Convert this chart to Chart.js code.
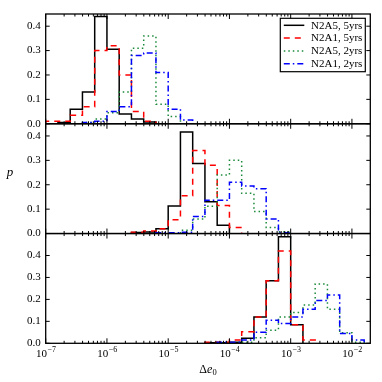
<!DOCTYPE html>
<html>
<head>
<meta charset="utf-8">
<script src="https://cdn.jsdelivr.net/npm/chart.js@4.4.1/dist/chart.umd.min.js"></script>
<style>
  html, body { margin: 0; padding: 0; background: #fff; }
</style>
</head>
<body>
<canvas id="hist" width="382" height="382"></canvas>
<script>
// log10 of the bin edges (0.2 decade bins)
const binEdgesLog = [-7.0, -6.8, -6.6, -6.4, -6.2, -6.0, -5.8, -5.6, -5.4, -5.2,
                     -5.0, -4.8, -4.6, -4.4, -4.2, -4.0, -3.8, -3.6, -3.4, -3.2,
                     -3.0, -2.8, -2.6, -2.4, -2.2, -2.0, -1.8];
const tickExponents = [-7, -6, -5, -4, -3, -2];
const yTicks = [0.0, 0.1, 0.2, 0.3, 0.4];
const seriesLabels = ['N2A5, 5yrs', 'N2A1, 5yrs', 'N2A5, 2yrs', 'N2A1, 2yrs'];

// top panel
const topN2A5y5 = [0, 0.005, 0.06, 0.13, 0.44, 0.305, 0.04, 0.02, 0.007, 0, 0, 0, 0, 0, 0, 0, 0, 0, 0, 0, 0, 0, 0, 0, 0, 0];
const topN2A1y5 = [0.01, 0.01, 0.035, 0.07, 0.30, 0.32, 0.20, 0.05, 0.01, 0, 0, 0, 0, 0, 0, 0, 0, 0, 0, 0, 0, 0, 0, 0, 0, 0];
const topN2A5y2 = [0, 0, 0, 0.005, 0.02, 0.045, 0.13, 0.31, 0.36, 0.08, 0.03, 0, 0, 0, 0, 0, 0, 0, 0, 0, 0, 0, 0, 0, 0, 0];
const topN2A1y2 = [0, 0, 0, 0.005, 0.01, 0.05, 0.07, 0.28, 0.29, 0.21, 0.06, 0.015, 0, 0, 0, 0, 0, 0, 0, 0, 0, 0, 0, 0, 0, 0];

// middle panel
const midN2A5y5 = [0, 0, 0, 0, 0, 0, 0, 0.004, 0.006, 0.02, 0.113, 0.416, 0.287, 0.13, 0.034, 0, 0, 0, 0, 0, 0, 0, 0, 0, 0, 0];
const midN2A1y5 = [0, 0, 0, 0, 0, 0, 0, 0.005, 0.01, 0.02, 0.057, 0.155, 0.34, 0.28, 0.115, 0.025, 0, 0, 0, 0, 0, 0, 0, 0, 0, 0];
const midN2A5y2 = [0, 0, 0, 0, 0, 0, 0, 0, 0, 0, 0, 0.013, 0.06, 0.112, 0.24, 0.30, 0.165, 0.09, 0.025, 0.007, 0, 0, 0, 0, 0, 0];
const midN2A1y2 = [0, 0, 0, 0, 0, 0, 0, 0, 0, 0.003, 0.003, 0.005, 0.07, 0.136, 0.136, 0.21, 0.195, 0.184, 0.06, 0.003, 0, 0, 0, 0, 0, 0];

// bottom panel
const botN2A5y5 = [0, 0, 0, 0, 0, 0, 0, 0, 0, 0, 0, 0, 0, 0.003, 0.003, 0.005, 0.023, 0.12, 0.285, 0.485, 0.085, 0, 0, 0, 0, 0];
const botN2A1y5 = [0, 0, 0, 0, 0, 0, 0, 0, 0, 0, 0, 0, 0, 0.005, 0.005, 0.015, 0.053, 0.12, 0.285, 0.42, 0.085, 0.015, 0, 0, 0, 0];
const botN2A5y2 = [0, 0, 0, 0, 0, 0, 0, 0, 0, 0, 0, 0, 0, 0, 0.003, 0, 0.005, 0.025, 0.06, 0.12, 0.14, 0.174, 0.27, 0.155, 0.048, 0.005];
const botN2A1y2 = [0, 0, 0, 0, 0, 0, 0, 0, 0, 0, 0, 0, 0, 0, 0.005, 0.005, 0.015, 0.05, 0.105, 0.09, 0.12, 0.155, 0.195, 0.22, 0.045, 0.015];

const panels = [
  { id: 'y1', max: 0.45, series: [topN2A5y5, topN2A1y5, topN2A5y2, topN2A1y2] },
  { id: 'y2', max: 0.45, series: [midN2A5y5, midN2A1y5, midN2A5y2, midN2A1y2] },
  { id: 'y3', max: 0.5,  series: [botN2A5y5, botN2A1y5, botN2A5y2, botN2A1y2] }
];

const colors = ['#000000', '#ff0000', '#1a8a3a', '#0000ff'];
const dashes = [[], [6, 5], [1.5, 3], [6, 3, 1.5, 3]];
const serif = "'Liberation Serif', 'DejaVu Serif', serif";

// step outline of a histogram, trimmed to its non-empty range
function histPoints(values) {
  const first = values.findIndex(v => v > 0);
  const last = values.length - 1 - values.slice().reverse().findIndex(v => v > 0);
  const pts = [{ x: Math.pow(10, binEdgesLog[first]), y: 0 }];
  for (let k = first; k <= last; k++) {
    pts.push({ x: Math.pow(10, binEdgesLog[k]), y: values[k] });
  }
  pts.push({ x: Math.pow(10, binEdgesLog[last + 1]), y: 0 });
  return pts;
}

const datasets = [];
panels.forEach(p => {
  p.series.forEach((vals, i) => {
    datasets.push({
      label: seriesLabels[i],
      data: histPoints(vals),
      yAxisID: p.id,
      stepped: true,
      borderColor: colors[i],
      borderDash: dashes[i],
      borderWidth: 1.5,
      pointRadius: 0,
      fill: false,
      order: 3 - i
    });
  });
});

function panelAxis(max, weight) {
  return {
    type: 'linear',
    position: 'left',
    stack: 'panels',
    stackWeight: 1,
    weight: weight,
    min: 0,
    max: max,
    grid: { display: false, drawTicks: false },
    border: { display: false },
    afterBuildTicks: s => { s.ticks = yTicks.map(v => ({ value: v })); },
    ticks: {
      autoSkip: false,
      padding: 5,
      color: '#000',
      font: { family: serif, size: 11 },
      callback: v => v.toFixed(1)
    },
    afterFit: s => { s.width = 45.7; }
  };
}

function line(ctx, x0, y0, x1, y1) {
  ctx.beginPath();
  ctx.moveTo(x0, y0);
  ctx.lineTo(x1, y1);
  ctx.stroke();
}

const decorations = {
  id: 'decorations',
  afterDatasetsDraw(chart) {
    const ctx = chart.ctx;
    const x = chart.scales.x;
    ctx.save();
    ctx.strokeStyle = '#000';
    ctx.fillStyle = '#000';

    // frames with inward ticks
    panels.forEach(p => {
      const y = chart.scales[p.id];
      ctx.lineWidth = 1;
      tickExponents.forEach(e => {
        for (let m = 1; m <= 9; m++) {
          const v = m * Math.pow(10, e);
          if (v < x.min || v > x.max) continue;
          const px = x.getPixelForValue(v);
          const len = m === 1 ? 5 : 2.5;
          line(ctx, px, y.bottom, px, y.bottom - len);
          line(ctx, px, y.top, px, y.top + len);
        }
      });
      yTicks.forEach(t => {
        const py = y.getPixelForValue(t);
        line(ctx, x.left, py, x.left + 4, py);
        line(ctx, x.right, py, x.right - 4, py);
      });
      ctx.lineWidth = 1.3;
      ctx.strokeRect(x.left, y.top, x.right - x.left, y.bottom - y.top);
    });

    // x tick labels 10^e
    ctx.textBaseline = 'alphabetic';
    ctx.textAlign = 'left';
    tickExponents.forEach(e => {
      const px = x.getPixelForValue(Math.pow(10, e));
      const exp = '\u2212' + Math.abs(e);
      ctx.font = '11px ' + serif;
      const wBase = ctx.measureText('10').width;
      ctx.font = '8px ' + serif;
      const wExp = ctx.measureText(exp).width;
      const x0 = px - (wBase + wExp) / 2;
      ctx.font = '11px ' + serif;
      ctx.fillText('10', x0, 357);
      ctx.font = '8px ' + serif;
      ctx.fillText(exp, x0 + wBase + 0.5, 351.5);
    });

    // x axis title
    const cx = (x.left + x.right) / 2;
    ctx.font = '12px ' + serif;
    const wD = ctx.measureText('\u0394').width;
    ctx.font = 'italic 12px ' + serif;
    const wE = ctx.measureText('e').width;
    ctx.font = '8.5px ' + serif;
    const wZ = ctx.measureText('0').width;
    let tx = cx - (wD + wE + wZ) / 2;
    ctx.font = '12px ' + serif;
    ctx.fillText('\u0394', tx, 372.5);
    tx += wD;
    ctx.font = 'italic 12px ' + serif;
    ctx.fillText('e', tx, 372.5);
    tx += wE;
    ctx.font = '8.5px ' + serif;
    ctx.fillText('0', tx, 375);

    // y axis title
    ctx.font = 'italic 13px ' + serif;
    ctx.textAlign = 'center';
    ctx.fillText('p', 10, 176);

    // legend
    const bx = x.right - 90, by = chart.scales.y1.top + 4.3, bw = 85, bh = 53.4;
    ctx.fillStyle = '#fff';
    ctx.fillRect(bx, by, bw, bh);
    ctx.lineWidth = 1.2;
    ctx.strokeStyle = '#000';
    ctx.strokeRect(bx, by, bw, bh);
    ctx.textAlign = 'left';
    ctx.textBaseline = 'middle';
    ctx.font = '11px ' + serif;
    for (let i = 0; i < 4; i++) {
      const ds = chart.data.datasets[i];
      const ry = by + 7 + i * 12.8;
      ctx.strokeStyle = ds.borderColor;
      ctx.lineWidth = 1.5;
      ctx.setLineDash(ds.borderDash);
      line(ctx, bx + 3.5, ry, bx + 24, ry);
      ctx.setLineDash([]);
      ctx.fillStyle = '#000';
      ctx.fillText(ds.label, bx + 30.7, ry + 0.5);
    }
    ctx.restore();
  }
};

new Chart(document.getElementById('hist'), {
  type: 'line',
  data: { datasets: datasets },
  options: {
    responsive: false,
    animation: false,
    devicePixelRatio: 1,
    layout: { padding: { top: 14, right: 11.7, left: 0, bottom: 0 } },
    plugins: {
      legend: { display: false },
      tooltip: { enabled: false }
    },
    scales: {
      x: {
        type: 'logarithmic',
        min: 1e-7,
        max: Math.pow(10, -1.7),
        grid: { display: false, drawTicks: false },
        border: { display: false },
        ticks: { display: false },
        afterFit: s => { s.height = 38.7; }
      },
      y1: panelAxis(panels[0].max, 3),
      y2: panelAxis(panels[1].max, 2),
      y3: panelAxis(panels[2].max, 1)
    }
  },
  plugins: [decorations]
});
</script>
</body>
</html>
